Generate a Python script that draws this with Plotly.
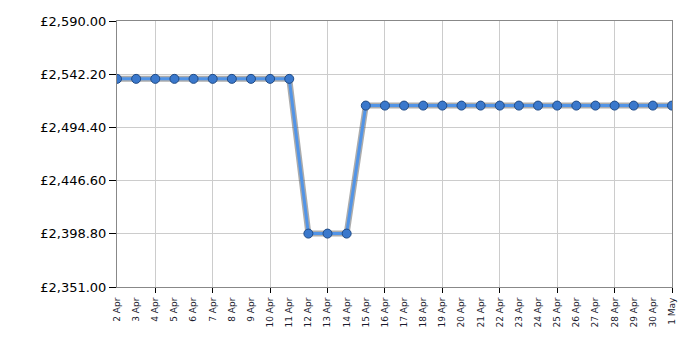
import plotly.graph_objects as go

dates = ["2 Apr", "3 Apr", "4 Apr", "5 Apr", "6 Apr", "7 Apr", "8 Apr", "9 Apr", "10 Apr", "11 Apr",
         "12 Apr", "13 Apr", "14 Apr", "15 Apr", "16 Apr", "17 Apr", "18 Apr", "19 Apr", "20 Apr",
         "21 Apr", "22 Apr", "23 Apr", "24 Apr", "25 Apr", "26 Apr", "27 Apr", "28 Apr", "29 Apr",
         "30 Apr", "1 May"]
prices = [2538.0] * 10 + [2399.0] * 3 + [2514.0] * 17
y_ticks = [2351.0, 2398.8, 2446.6, 2494.4, 2542.2, 2590.0]
y_tick_text = ["£{:,.2f}".format(v) for v in y_ticks]

idx = list(range(len(dates)))
grid_idx = [i for i in idx if i % 3 == 2]

fig = go.Figure()
# shadow / outline
fig.add_trace(go.Scatter(x=idx, y=prices, mode="lines", line=dict(color="rgba(70,70,70,0.45)", width=6),
                         hoverinfo="skip", showlegend=False))
fig.add_trace(go.Scatter(x=idx, y=prices, mode="lines+markers",
                         line=dict(color="#5294e6", width=3),
                         marker=dict(size=9, color="#3a78cc", line=dict(color="#1f4a85", width=1)),
                         showlegend=False))
# overlay axis for gridlines/ticks every 3 days
fig.add_trace(go.Scatter(x=[0, 29], y=[y_ticks[0], y_ticks[0]], xaxis="x2", mode="lines",
                         line=dict(width=0), hoverinfo="skip", showlegend=False))

fig.update_layout(
    width=700, height=350,
    margin=dict(l=117, r=28, t=21, b=63),
    paper_bgcolor="white", plot_bgcolor="white",
    font=dict(family="DejaVu Sans, Verdana, sans-serif", color="#000"),
    xaxis=dict(range=[0, 29], tickmode="array", tickvals=idx, ticktext=dates, tickangle=-90,
               showgrid=False, ticks="outside", ticklen=6, tickcolor="rgba(0,0,0,0)",
               tickfont=dict(size=9, color="#1a1a2e"), zeroline=False,
               showline=True, linecolor="#888", mirror=True),
    xaxis2=dict(range=[0, 29], overlaying="x", side="bottom", tickmode="array", tickvals=grid_idx,
                showticklabels=False, showgrid=True, gridcolor="#cccccc", gridwidth=1,
                ticks="outside", ticklen=5, tickcolor="#000", zeroline=False, anchor="y"),
    yaxis=dict(range=[2351, 2590], tickmode="array", tickvals=y_ticks, ticktext=y_tick_text,
               showgrid=True, gridcolor="#cccccc", ticks="outside", ticklen=7, tickcolor="#000",
               tickfont=dict(size=13), zeroline=False, showline=True, linecolor="#888", mirror=True),
)

fig.write_html("out.html")
